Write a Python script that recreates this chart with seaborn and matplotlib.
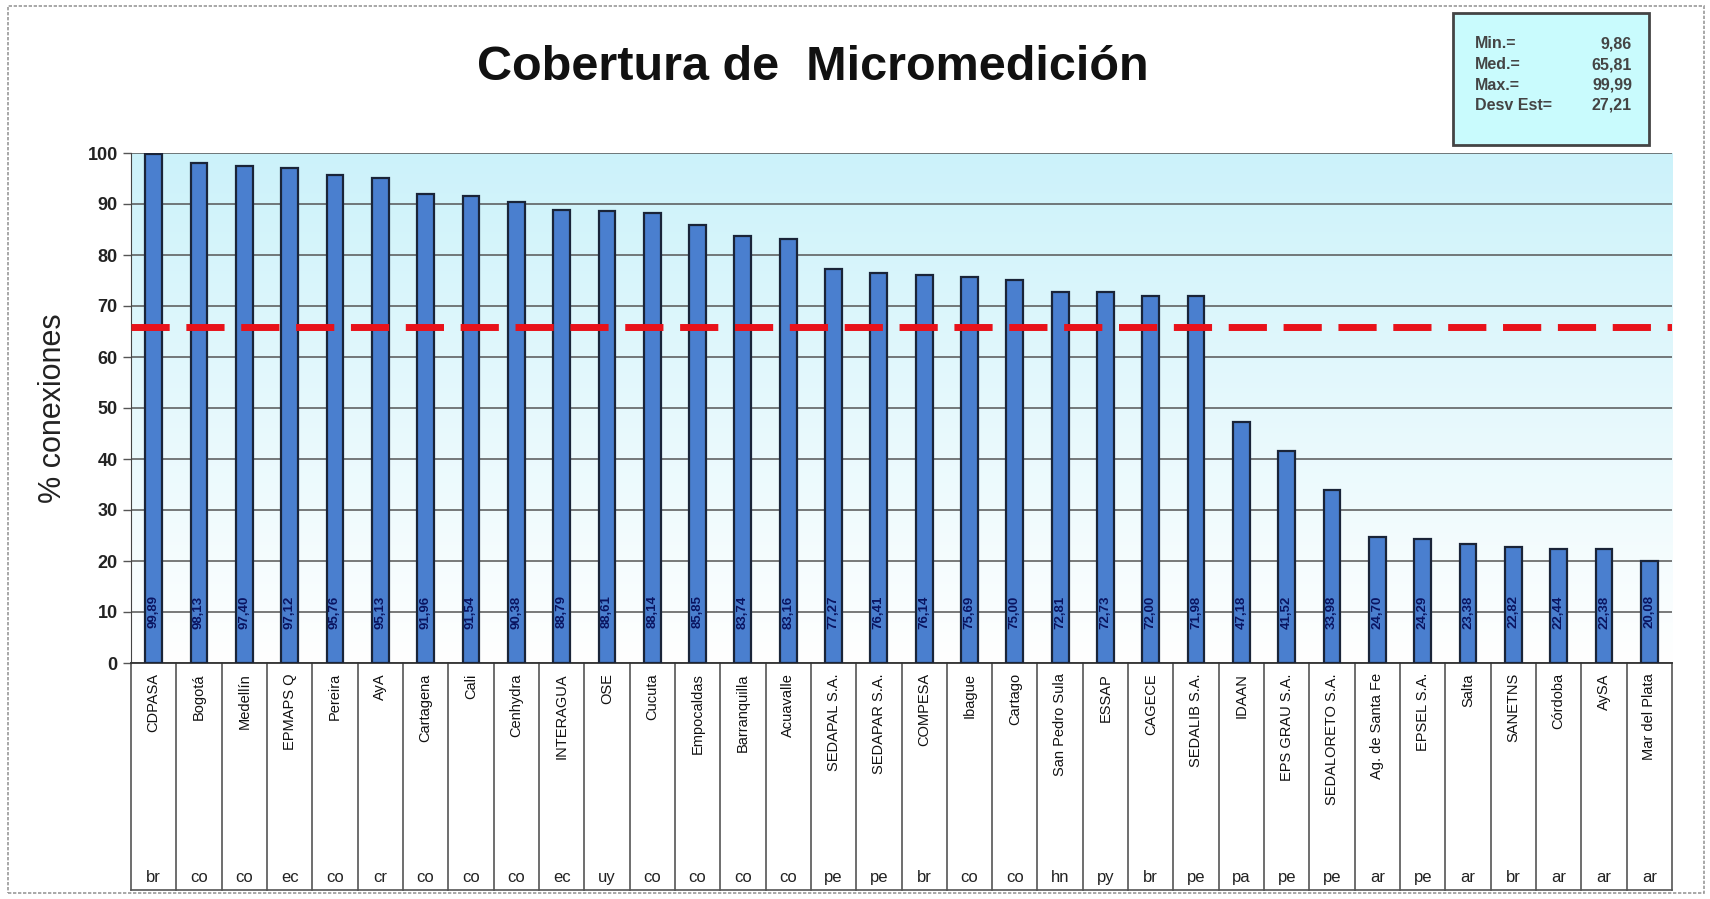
import numpy as np
import matplotlib
matplotlib.use('Agg')
import matplotlib.pyplot as plt
import matplotlib.patches as mpatches
import matplotlib.transforms as mtransforms
import seaborn as sns
import pandas as pd

# datos
operadores = ['CDPASA', 'Bogotá', 'Medellín', 'EPMAPS Q', 'Pereira', 'AyA', 'Cartagena', 'Cali',
              'Cenhydra', 'INTERAGUA', 'OSE', 'Cucuta', 'Empocaldas', 'Barranquilla', 'Acuavalle',
              'SEDAPAL S.A.', 'SEDAPAR S.A.', 'COMPESA', 'Ibague', 'Cartago', 'San Pedro Sula',
              'ESSAP', 'CAGECE', 'SEDALIB S.A.', 'IDAAN', 'EPS GRAU S.A.', 'SEDALORETO S.A.',
              'Ag. de Santa Fe', 'EPSEL S.A.', 'Salta', 'SANETNS', 'Córdoba', 'AySA', 'Mar del Plata']
paises = ['br', 'co', 'co', 'ec', 'co', 'cr', 'co', 'co', 'co', 'ec', 'uy', 'co', 'co', 'co', 'co',
          'pe', 'pe', 'br', 'co', 'co', 'hn', 'py', 'br', 'pe', 'pa', 'pe', 'pe', 'ar', 'pe', 'ar',
          'br', 'ar', 'ar', 'ar']
cobertura = [99.89, 98.13, 97.40, 97.12, 95.76, 95.13, 91.96, 91.54, 90.38, 88.79, 88.61, 88.14,
             85.85, 83.74, 83.16, 77.27, 76.41, 76.14, 75.69, 75.00, 72.81, 72.73, 72.00, 71.98,
             47.18, 41.52, 33.98, 24.70, 24.29, 23.38, 22.82, 22.44, 22.38, 20.08]
estad_nombres = ['Min.=', 'Med.=', 'Max.=', 'Desv Est=']
estad_valores = [9.86, 65.81, 99.99, 27.21]
mediana = 65.81

df = pd.DataFrame({'operador': operadores, 'pais': paises, 'cobertura': cobertura})

plt.rcParams['font.family'] = ['Liberation Sans', 'DejaVu Sans']

fig = plt.figure(figsize=(17.1, 8.99), dpi=100)
ax = fig.add_axes([131 / 1710, 1 - 663 / 899, (1672 - 131) / 1710, (663 - 153) / 899])

# fondo degradado
grad = np.linspace(0, 1, 256).reshape(-1, 1)
cmap = matplotlib.colors.LinearSegmentedColormap.from_list('fondo', ['#ffffff', '#ccf2fa'])
ax.imshow(grad, cmap=cmap, aspect='auto', extent=[-0.5, len(df) - 0.5, 0, 100],
          origin='lower', zorder=0)

sns.barplot(data=df, x='operador', y='cobertura', color='#4a7fcf', width=0.37,
            edgecolor='#1a2438', linewidth=1.6, saturation=1, ax=ax, zorder=3)

ax.set_xlim(-0.5, len(df) - 0.5)
ax.set_ylim(0, 100)
ax.set_yticks(np.arange(0, 101, 10))
ax.tick_params(axis='y', labelsize=13, length=6, width=1, color='#555555', labelcolor='#222222')
for lab in ax.get_yticklabels():
    lab.set_fontweight('bold')
ax.grid(axis='y', color='#555555', linewidth=1.1, zorder=1)
ax.set_axisbelow(True)
ax.set_xticks([])
ax.set_xlabel('')
ax.set_ylabel('% conexiones', fontsize=22, color='#222222', labelpad=14)
for s in ['top', 'right']:
    ax.spines[s].set_visible(False)
ax.spines['left'].set_color('#444444')
ax.spines['bottom'].set_color('#333333')
ax.spines['bottom'].set_linewidth(1.3)

# linea de la mediana
ax.axhline(mediana, color='#e8121a', linewidth=5, linestyle=(0, (5.5, 2.4)), zorder=4)

# valores dentro de las barras
for i, v in enumerate(cobertura):
    ax.text(i, 10, f'{v:.2f}'.replace('.', ','), rotation=90, ha='center', va='center',
            fontsize=9.5, fontweight='bold', color='#0a1460', zorder=5)

# tabla de categorias bajo el eje
trans = mtransforms.blended_transform_factory(ax.transData, ax.transAxes)
for i, (nom, pa) in enumerate(zip(operadores, paises)):
    ax.text(i, -0.02, nom, rotation=90, ha='center', va='top', fontsize=10.5,
            color='#111111', transform=trans)
    ax.text(i, -0.42, pa, ha='center', va='center', fontsize=12, color='#222222',
            transform=trans)
for i in range(len(df) + 1):
    ax.plot([i - 0.5, i - 0.5], [0, -0.445], color='#555555', linewidth=1.2,
            transform=trans, clip_on=False)
ax.plot([-0.5, len(df) - 0.5], [-0.445, -0.445], color='#555555', linewidth=1.2,
        transform=trans, clip_on=False)

# titulo
fig.text(813 / 1710, 1 - 68 / 899, 'Cobertura de  Micromedición', ha='center', va='center',
         fontsize=35, fontweight='bold', color='#111111')

# cuadro de estadisticos
caja = mpatches.Rectangle((1453 / 1710, 1 - 145 / 899), 196 / 1710, 132 / 899,
                          transform=fig.transFigure, facecolor='#c9fbfd',
                          edgecolor='#444444', linewidth=2)
fig.add_artist(caja)
for k, (n, v) in enumerate(zip(estad_nombres, estad_valores)):
    y = 1 - (44 + 20.5 * k) / 899
    fig.text(1475 / 1710, y, n, ha='left', va='center', fontsize=11.5, fontweight='bold',
             color='#444444')
    fig.text(1632 / 1710, y, f'{v:.2f}'.replace('.', ','), ha='right', va='center',
             fontsize=11.5, fontweight='bold', color='#444444')

# marco exterior
marco = mpatches.Rectangle((8 / 1710, 6 / 899), 1696 / 1710, 887 / 899,
                           transform=fig.transFigure, fill=False,
                           edgecolor='#999999', linewidth=1.2, linestyle=(0, (2, 1)))
fig.add_artist(marco)

fig.savefig('out.png', dpi=100)
